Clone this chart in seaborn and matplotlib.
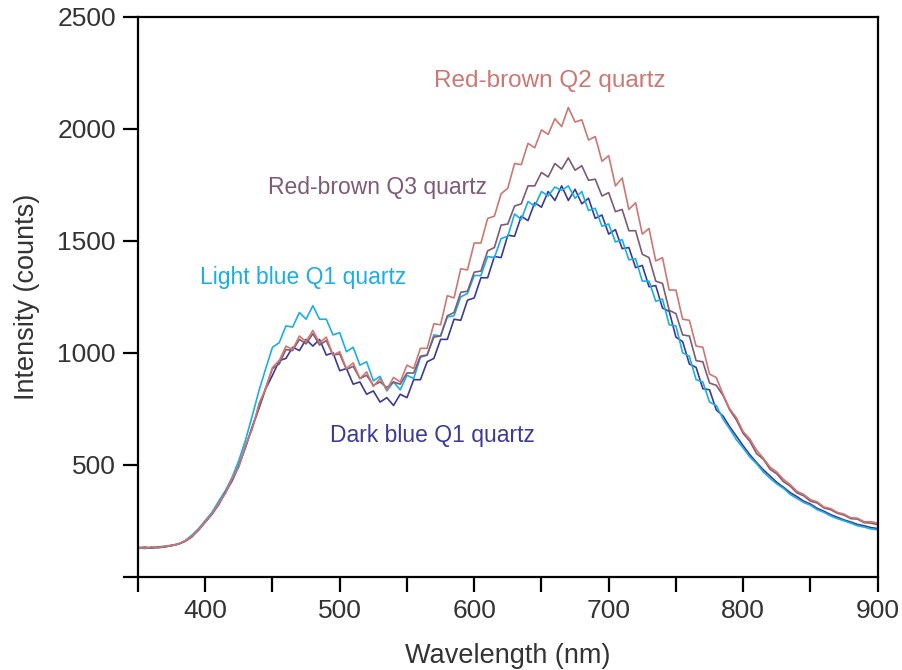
import numpy as np
import pandas as pd
import matplotlib
matplotlib.use("Agg")
import matplotlib.pyplot as plt
import seaborn as sns

# wavelength grid (nm), 5 nm steps
wavelength = list(range(350, 905, 5))

# Red-brown Q2 quartz
q2_red = [132, 128, 134, 131, 137, 140, 147, 160, 182, 210,
          248, 282, 328, 372, 440, 490, 590, 660, 775, 840,
          935, 965, 1030, 1015, 1075, 1050, 1100, 1045, 1070, 990,
          1005, 930, 955, 885, 915, 850, 885, 835, 890, 870,
          945, 930, 1020, 1020, 1130, 1125, 1255, 1245, 1375, 1370,
          1490, 1490, 1600, 1610, 1710, 1735, 1845, 1840, 1935, 1915,
          1995, 1975, 2045, 2010, 2095, 2030, 2040, 1950, 1965, 1855,
          1880, 1745, 1780, 1640, 1670, 1530, 1555, 1410, 1425, 1280,
          1280, 1150, 1145, 1030, 1025, 905, 890,
          815, 750, 710, 648, 615, 565, 530, 490, 468, 435,
          412, 382, 368, 345, 335, 312, 305, 288, 280, 264,
          262, 246, 246, 240]

# Red-brown Q3 quartz
q3_red = [130, 133, 129, 134, 136, 141, 146, 158, 178, 212,
          244, 280, 322, 378, 428, 495, 582, 668, 752, 845,
          930, 950, 1015, 1010, 1060, 1040, 1085, 1035, 1055, 990,
          995, 925, 940, 885, 900, 855, 870, 845, 870, 860,
          910, 910, 985, 990, 1070, 1075, 1165, 1180, 1270, 1275,
          1360, 1365, 1455, 1470, 1570, 1575, 1655, 1665, 1745, 1745,
          1805, 1785, 1845, 1820, 1870, 1815, 1835, 1770, 1775, 1700,
          1715, 1630, 1640, 1545, 1545, 1440, 1425, 1320, 1310, 1190,
          1175, 1080, 1075, 965, 960, 865, 855,
          810, 745, 700, 640, 605, 550, 525, 480, 460, 425,
          405, 375, 362, 338, 330, 308, 300, 284, 276, 260,
          258, 242, 240, 233]

# Light blue Q1 quartz
q1_light = [127, 131, 128, 133, 135, 140, 146, 162, 186, 215,
            252, 288, 338, 385, 445, 520, 612, 720, 832, 930,
            1025, 1045, 1120, 1115, 1180, 1150, 1210, 1150, 1150, 1080,
            1090, 1005, 1025, 945, 960, 875, 895, 830, 870, 835,
            900, 885, 980, 990, 1080, 1075, 1160, 1165, 1250, 1265,
            1345, 1345, 1430, 1425, 1510, 1520, 1620, 1595, 1675, 1655,
            1720, 1700, 1740, 1725, 1745, 1690, 1720, 1635, 1645, 1565,
            1575, 1495, 1505, 1415, 1420, 1320, 1320, 1230, 1240, 1125,
            1120, 1000, 985, 880, 870, 780, 765,
            705, 660, 612, 575, 535, 505, 468, 440, 415, 395,
            368, 350, 332, 320, 300, 288, 272, 260, 250, 240,
            228, 222, 214, 210]

# Dark blue Q1 quartz
q1_dark = [129, 127, 131, 130, 134, 139, 147, 160, 180, 208,
           246, 280, 326, 376, 432, 498, 580, 670, 758, 840,
           900, 965, 975, 1025, 1010, 1060, 1030, 1060, 990, 1000,
           920, 930, 860, 870, 815, 830, 780, 800, 765, 815,
           800, 880, 880, 960, 975, 1060, 1060, 1150, 1145, 1235,
           1245, 1335, 1335, 1430, 1425, 1525, 1520, 1610, 1590, 1670,
           1650, 1720, 1680, 1745, 1680, 1730, 1665, 1690, 1600, 1615,
           1530, 1550, 1465, 1470, 1380, 1390, 1295, 1300, 1200, 1185,
           1070, 1050, 950, 935, 840, 835, 745,
           718, 670, 628, 585, 545, 510, 478, 450, 422, 400,
           376, 358, 338, 325, 306, 293, 278, 266, 254, 245,
           234, 228, 220, 216]

labels = ["Dark blue Q1 quartz", "Light blue Q1 quartz",
          "Red-brown Q3 quartz", "Red-brown Q2 quartz"]
colors = ["#3b3a96", "#1aaee6", "#7e5a74", "#cd7772"]
series = [q1_dark, q1_light, q3_red, q2_red]

# label anchor points (wavelength, counts) and sizes
label_x = [569, 473, 528, 656]
label_y = [633, 1337, 1738, 2215]
label_size = [16.5, 16.5, 16.5, 17.5]

sns.set_theme(style="ticks")
plt.rcParams["font.family"] = ["Liberation Sans", "DejaVu Sans"]

fig = plt.figure(figsize=(9.02, 6.70), dpi=100)
ax = fig.add_axes([0.153, 0.139, 0.820, 0.836])

for vals, lab, col in zip(series, labels, colors):
    df = pd.DataFrame({"wl": wavelength, "counts": vals})
    sns.lineplot(data=df, x="wl", y="counts", color=col, lw=1.2, ax=ax)

for lab, col, lx, ly, fs in zip(labels, colors, label_x, label_y, label_size):
    ax.text(lx, ly, lab, color=col, fontsize=fs, ha="center", va="center")

ax.set_xlim(350, 900)
ax.set_ylim(0, 2500)
ax.set_xticks(np.arange(350, 901, 50))
ax.set_xticklabels(["" if t % 100 else str(t) for t in range(350, 901, 50)])
ax.set_yticks(np.arange(0, 2501, 500))
ax.set_yticklabels(["", "500", "1000", "1500", "2000", "2500"])

ax.set_xlabel("Wavelength (nm)", fontsize=19.5, color="#333333", labelpad=14)
ax.set_ylabel("Intensity (counts)", fontsize=19.5, color="#333333", labelpad=12)
ax.tick_params(axis="both", direction="out", length=11, width=1.6,
               color="black", labelsize=19, labelcolor="#333333", pad=5)
ax.tick_params(top=False, right=False)
for s in ax.spines.values():
    s.set_visible(True)
    s.set_color("black")
    s.set_linewidth(1.6)

fig.savefig("out.png", dpi=100)
plt.close(fig)
